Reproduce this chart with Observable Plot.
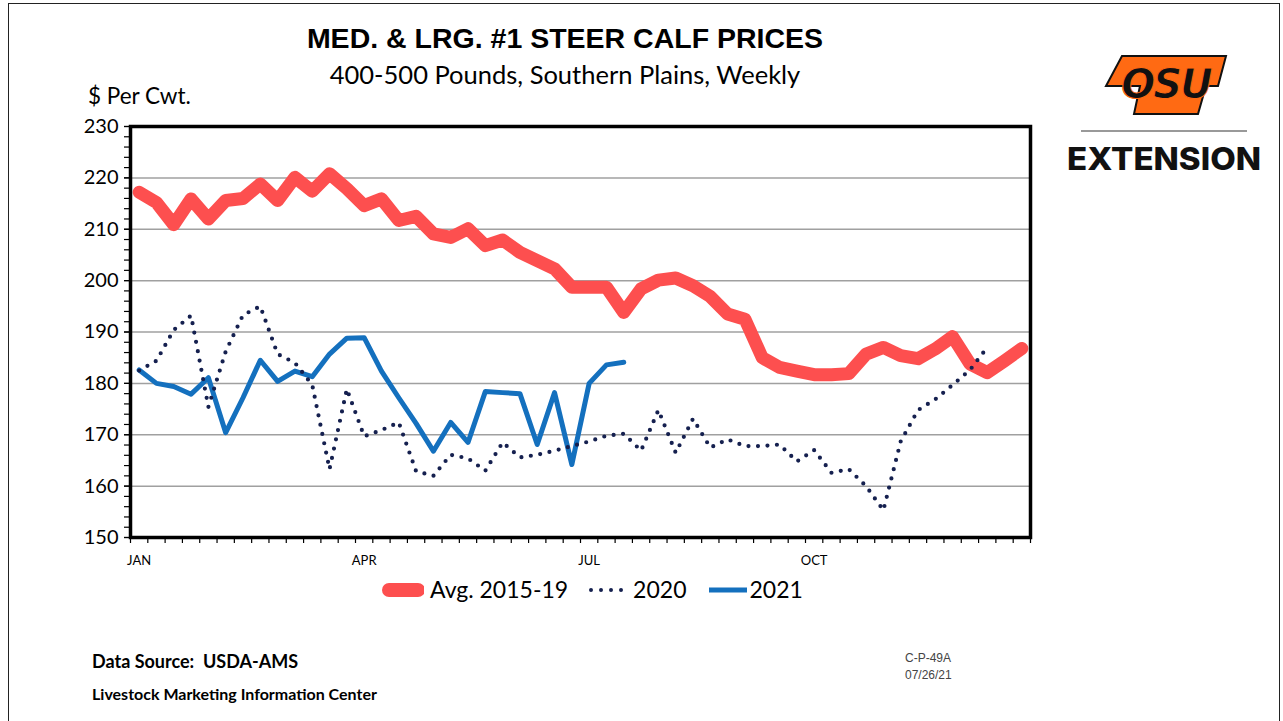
<!DOCTYPE html>
<html>
<head>
<meta charset="utf-8">
<script src="https://cdn.jsdelivr.net/npm/d3@7"></script>
<script src="https://cdn.jsdelivr.net/npm/@observablehq/plot@0.6"></script>
<style>
  html, body { margin: 0; padding: 0; background: #fff; }
  #page { position: relative; width: 1283px; height: 721px; overflow: hidden; background: #fff; font-family: Lato, "Open Sans", sans-serif; }
  .abs { position: absolute; white-space: nowrap; }
  #border { position: absolute; left: 8px; top: 3px; width: 1272px; height: 740px; border: 1.5px solid #222; box-sizing: border-box; }
  #chart { position: absolute; left: 0; top: 0; }
</style>
</head>
<body>
<div id="page">
  <div id="border"></div>
  <div id="chart"></div>
  <div class="abs" id="title" style="left:565px; top:22px; transform:translateX(-50%); font-family:'Liberation Sans',Arial,sans-serif; font-weight:bold; font-size:28.5px; color:#000;">MED. &amp; LRG. #1 STEER CALF PRICES</div>
  <div class="abs" id="subtitle" style="left:565px; top:59px; transform:translateX(-50%); font-size:25.5px; color:#000;">400-500 Pounds, Southern Plains, Weekly</div>
  <div class="abs" style="left:88px; top:82px; font-size:22.5px; color:#000;">$ Per Cwt.</div>
  <div class="abs" id="legend" style="left:380px; top:574px; font-size:23px; color:#000; display:flex; align-items:center;">
    <svg width="44" height="30"><line x1="9" y1="16" x2="38" y2="16" stroke="#fd4f4f" stroke-width="14" stroke-linecap="round"/></svg>
    <span style="margin-left:6px;">Avg. 2015-19</span>
    <svg width="48" height="30" style="margin-left:17px;"><line x1="6" y1="16" x2="46" y2="16" stroke="#15204f" stroke-width="4" stroke-linecap="round" stroke-dasharray="0 10"/></svg>
    <span>2020</span>
    <svg width="42" height="30" style="margin-left:21px;"><line x1="2" y1="16" x2="40" y2="16" stroke="#1470be" stroke-width="5"/></svg>
    <span>2021</span>
  </div>
  <div class="abs" style="left:92px; top:650px; font-weight:bold; font-size:18px; color:#000;">Data Source:&nbsp; USDA-AMS</div>
  <div class="abs" style="left:92px; top:684px; font-weight:bold; font-size:16px; color:#000;">Livestock Marketing Information Center</div>
  <div class="abs" style="left:905px; top:650px; font-family:'Liberation Sans',Arial,sans-serif; font-size:12px; color:#444; line-height:17px;">C-P-49A<br>07/26/21</div>
  <svg class="abs" style="left:1060px; top:40px;" width="220" height="140">
    <polygon points="62,16 166,16 158,46 146,46 138,74 74,74 80,46 46,46" fill="#ff6a13" stroke="#111" stroke-width="2"/>
    <text x="106" y="58" text-anchor="middle" font-family="'DejaVu Sans',sans-serif" font-weight="bold" font-style="italic" font-size="40" fill="#111" stroke="#ff6a13" stroke-width="1" letter-spacing="-2">OSU</text>
    <line x1="21" y1="91" x2="187" y2="91" stroke="#999" stroke-width="2"/>
    <text x="104" y="130" text-anchor="middle" font-family="Inter, 'DejaVu Sans', sans-serif" font-weight="800" font-size="31" fill="#111" textLength="194" lengthAdjust="spacingAndGlyphs">EXTENSION</text>
  </svg>
</div>
<script>
// ---- data ----
const weeks = [1,2,3,4,5,6,7,8,9,10,11,12,13,14,15,16,17,18,19,20,21,22,23,24,25,26,27,28,29,30,31,32,33,34,35,36,37,38,39,40,41,42,43,44,45,46,47,48,49,50,51,52];
const avg2015_19 = [217.2,215.2,210.9,215.9,212.0,215.6,216.0,218.8,215.6,220.1,
  217.4,220.8,217.9,214.6,215.9,211.7,212.5,209.1,208.4,210.1,
  206.8,207.9,205.5,203.9,202.3,198.7,198.7,198.7,193.8,198.4,
  200.1,200.5,199.0,196.9,193.5,192.5,185.0,183.1,182.4,181.7,
  181.7,181.9,185.7,187.0,185.4,184.8,186.7,189.1,183.8,182.1,
  184.4,186.8];
const y2020 = [182.5,184.4,190.4,193.2,175.4,186.2,193.3,195.0,185.7,184.0,
  179.7,163.3,178.9,169.7,170.9,172.4,162.9,162.0,166.1,165.4,
  163.0,168.5,165.6,166.1,166.9,167.8,168.7,169.8,170.2,166.9,
  174.8,166.5,173.1,167.5,169.1,167.8,167.8,168.1,164.8,167.0,
  162.6,163.3,160.0,155.3,168.7,174.8,176.9,179.7,182.6,187.0];
const y2021 = [182.6,180.0,179.4,177.9,181.1,170.4,177.2,184.5,180.4,182.4,
  181.3,185.7,188.8,188.9,182.4,177.2,172.2,166.8,172.4,168.5,
  178.4,178.2,178.0,168.1,178.2,164.2,180.0,183.6,184.1];
const monthWeeks = [1,14,27,40];
const monthLabels = ["JAN","APR","JUL","OCT"];
const yTicks = [150,160,170,180,190,200,210,220,230];
const yGrid = [160,170,180,190,200,210,220];
const yMinor = [150,152,154,156,158,160,162,164,166,168,170,172,174,176,178,180,182,184,186,188,190,192,194,196,198,200,202,204,206,208,210,212,214,216,218,220,222,224,226,228,230];
const weekEdges = [0.5].concat(weeks.map(w => w + 0.5));

const rows = (vals) => vals.map((v, i) => ({week: weeks[i], value: v}));

const chart = Plot.plot({
  width: 1100,
  height: 580,
  marginLeft: 130,
  marginRight: 70,
  marginTop: 126,
  marginBottom: 43,
  style: {fontFamily: "Lato, 'Open Sans', sans-serif", fontSize: "19px", color: "#000", background: "transparent"},
  x: {domain: [0.5, 52.5], label: null},
  y: {domain: [150, 230], label: null},
  marks: [
    Plot.gridY(yGrid, {stroke: "#a0a0a0", strokeOpacity: 1, strokeWidth: 1.5}),
    Plot.axisY(yMinor, {tickSize: 6, tickFormat: () => "", strokeWidth: 1.2, label: null}),
    Plot.axisY(yTicks, {tickSize: 6, tickPadding: 6, fontSize: 20, strokeWidth: 1.2, label: null}),
    Plot.axisX(weekEdges, {tickSize: 6, tickFormat: () => "", strokeWidth: 1.2, label: null}),
    Plot.axisX(monthWeeks, {tickSize: 0, tickPadding: 18, fontSize: 13, tickFormat: d => monthLabels[monthWeeks.indexOf(d)], label: null}),
    Plot.line(rows(avg2015_19), {x: "week", y: "value", stroke: "#fd4f4f", strokeWidth: 13, strokeLinejoin: "round", strokeLinecap: "round"}),
    Plot.line(rows(y2021), {x: "week", y: "value", stroke: "#1470be", strokeWidth: 5, strokeLinejoin: "round"}),
    Plot.line(rows(y2020), {x: "week", y: "value", stroke: "#15204f", strokeWidth: 4.2, strokeLinecap: "round", strokeDasharray: "0 9.5"}),
    Plot.frame({stroke: "#000", strokeWidth: 3.5})
  ]
});
document.getElementById("chart").appendChild(chart);
</script>
</body>
</html>
